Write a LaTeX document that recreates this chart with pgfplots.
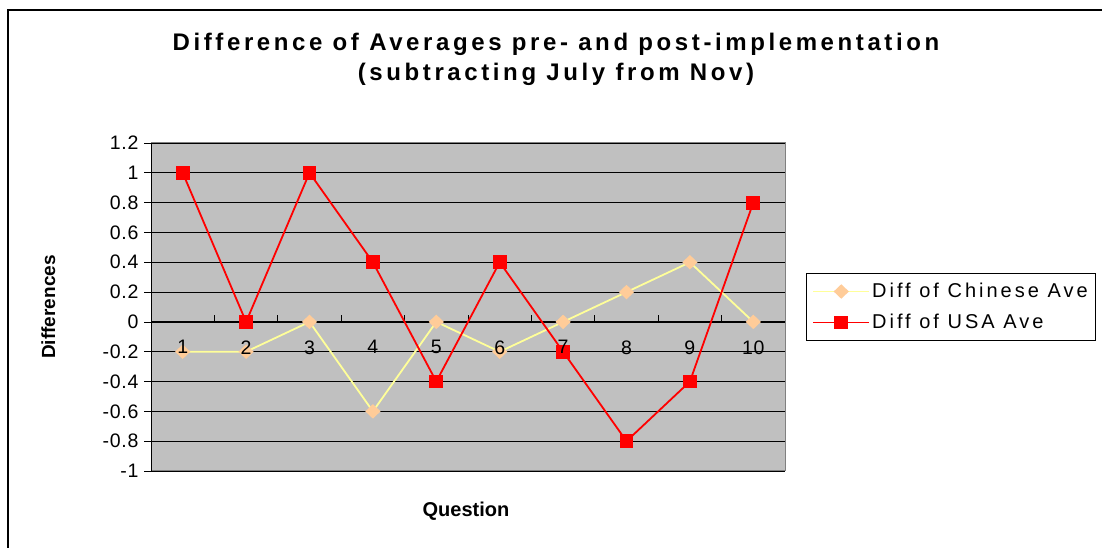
\documentclass[border=0pt]{standalone}
\usepackage{pgfplots}
\pgfplotsset{compat=1.18}
\usepackage{fontspec}
\setmainfont{Liberation Sans}
\definecolor{plotbg}{HTML}{C0C0C0}
\definecolor{chinaline}{HTML}{FFFF99}
\definecolor{chinamark}{HTML}{FFCC99}
\definecolor{bordergray}{HTML}{808080}
\begin{document}
\begin{tikzpicture}[x=1pt,y=1pt]
\useasboundingbox (0,0) rectangle (1102,548);
\draw[line width=1.2pt] (8,0) -- (8,538) -- (1102,538);
\node[font=\bfseries\fontsize{24}{30}\selectfont\addfontfeature{LetterSpace=15}, align=center, anchor=base] at (556,467) {Difference of Averages pre- and post-implementation\\(subtracting July from Nov)};
\begin{axis}[
  at={(151pt,77pt)}, anchor=south west,
  width=634pt, height=328pt, scale only axis,
  xmin=0.5, xmax=10.5, ymin=-1, ymax=1.2,
  axis background/.style={fill=plotbg, draw=bordergray, line width=1pt},
  axis x line*=middle, axis y line*=left,
  axis line style={black, line width=0.9pt},
  x axis line style={-}, y axis line style={-},
  xtick={1.5,2.5,...,9.5},
  xticklabels={},
  x tick style={black, line width=0.9pt},
  xtick align=inside,
  ytick={-1,-0.8,...,1.2},
  yticklabels={-1,-0.8,-0.6,-0.4,-0.2,0,0.2,0.4,0.6,0.8,1,1.2},
  ymajorgrids, grid style={black, line width=0.8pt},
  y tick style={black, line width=0.8pt}, ytick align=outside,
  major tick length=7pt,
  ticklabel style={font=\fontsize{19.5}{19.5}\selectfont\addfontfeature{LetterSpace=4}},
  /pgf/number format/assume math mode=true,
  yticklabel style={xshift=-2pt},
  legend style={at={(1.033,0.5)}, anchor=west, draw=black, line width=0.9pt, font=\fontsize{20}{20}\selectfont\addfontfeature{LetterSpace=15}, row sep=11pt, inner xsep=6pt, inner ysep=8pt, /tikz/every even column/.append style={column sep=8pt}},
  legend cell align=left,
  legend image code/.code={\draw[#1, mark=none] (0pt,0pt) -- (56pt,0pt); \draw[#1, only marks] plot coordinates {(28pt,0pt)};},
  clip=false,
]
\addplot[chinaline, line width=1.8pt, mark=diamond*, mark size=6pt, mark options={fill=chinamark, draw=chinamark, xscale=1.4}] coordinates {
(1,-0.2) (2,-0.2) (3,0) (4,-0.6) (5,0) (6,-0.2) (7,0) (8,0.2) (9,0.4) (10,0)};
\addlegendentry{Diff of Chinese Ave}
\addplot[red, line width=1.8pt, mark=square*, mark size=6pt, mark options={fill=red, draw=red}] coordinates {
(1,1) (2,0) (3,1) (4,0.4) (5,-0.4) (6,0.4) (7,-0.2) (8,-0.8) (9,-0.4) (10,0.8)};
\addlegendentry{Diff of USA Ave}
\end{axis}
% overlay axis carrying only the category labels, drawn on top of the series
\begin{axis}[
  at={(151pt,77pt)}, anchor=south west,
  width=634pt, height=328pt, scale only axis,
  xmin=0.5, xmax=10.5, ymin=-1, ymax=1.2,
  axis x line*=middle, axis y line=none,
  axis line style={draw=none},
  xtick={1,...,10}, ytick=\empty,
  major tick length=0pt,
  x tick style={draw=none},
  xticklabel style={font=\fontsize{19.5}{19.5}\selectfont\addfontfeature{LetterSpace=4}, yshift=-15pt},
  /pgf/number format/assume math mode=true,
]
\end{axis}
\node[font=\bfseries\fontsize{19}{19}\selectfont, rotate=90, anchor=base] at (55,241) {Differences};
\node[font=\bfseries\fontsize{20}{20}\selectfont, anchor=base] at (466,31) {Question};
\end{tikzpicture}
\end{document}
